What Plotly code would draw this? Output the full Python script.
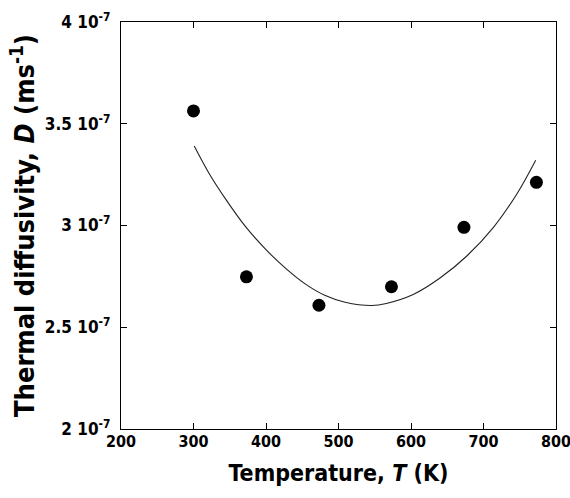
import plotly.graph_objects as go

# measured data points
temp_K = [300, 373, 473, 573, 673, 773]
diffusivity = [3.563e-7, 2.748e-7, 2.608e-7, 2.699e-7, 2.991e-7, 3.212e-7]

# fitted curve
fit_T = [301, 323, 346, 371, 399, 426, 454, 481, 509, 546, 566, 603, 640, 677, 714, 746, 772]
fit_D = [3.391e-7, 3.247e-7, 3.121e-7, 2.998e-7, 2.885e-7, 2.793e-7, 2.713e-7, 2.657e-7,
         2.623e-7, 2.607e-7, 2.617e-7, 2.661e-7, 2.742e-7, 2.850e-7, 2.992e-7, 3.155e-7, 3.321e-7]

x_ticks = [200, 300, 400, 500, 600, 700, 800]
y_tickvals = [2e-7, 2.5e-7, 3e-7, 3.5e-7, 4e-7]
y_ticktext = ["2 10<sup>-7</sup>", "2.5 10<sup>-7</sup>", "3 10<sup>-7</sup>",
              "3.5 10<sup>-7</sup>", "4 10<sup>-7</sup>"]

FONT = "DejaVu Sans Condensed, DejaVu Sans, sans-serif"

fig = go.Figure()
fig.add_trace(go.Scatter(x=fit_T, y=fit_D, mode="lines",
                         line=dict(color="#222222", width=1.1, shape="spline", smoothing=1.0),
                         showlegend=False, hoverinfo="skip"))
fig.add_trace(go.Scatter(x=temp_K, y=diffusivity, mode="markers",
                         marker=dict(color="black", size=13),
                         showlegend=False))

axis_common = dict(showgrid=False, zeroline=False, showline=True, linecolor="black",
                   linewidth=1.3, mirror="ticks", ticks="inside", ticklen=6,
                   tickwidth=1, tickcolor="black", automargin=False,
                   ticklabeloverflow="allow")

fig.update_xaxes(range=[200, 800], tickvals=x_ticks, **axis_common,
                 ticklabelstandoff=-2,
                 tickfont=dict(family=FONT, size=16, color="black", weight="bold"),
                 title=dict(text="Temperature, <i>T</i> (K)", standoff=14,
                            font=dict(family=FONT, size=23, color="black", weight="bold")))
fig.update_yaxes(range=[2e-7, 4e-7], tickvals=y_tickvals, ticktext=y_ticktext, **axis_common,
                 ticklabelstandoff=6,
                 tickfont=dict(family=FONT, size=17, color="black", weight="bold"),
                 title=dict(text="Thermal diffusivity, <i>D</i> (ms<sup>-1</sup>)", standoff=2,
                            font=dict(family=FONT, size=27, color="black", weight="bold")))

fig.update_layout(width=570, height=498, plot_bgcolor="white", paper_bgcolor="white",
                  margin=dict(l=121, r=14, t=22, b=69))

# remove the default page margin so the figure fills the window exactly
fig.write_html("out.html", config={"displayModeBar": False},
               post_script="document.body.style.margin='0';")
